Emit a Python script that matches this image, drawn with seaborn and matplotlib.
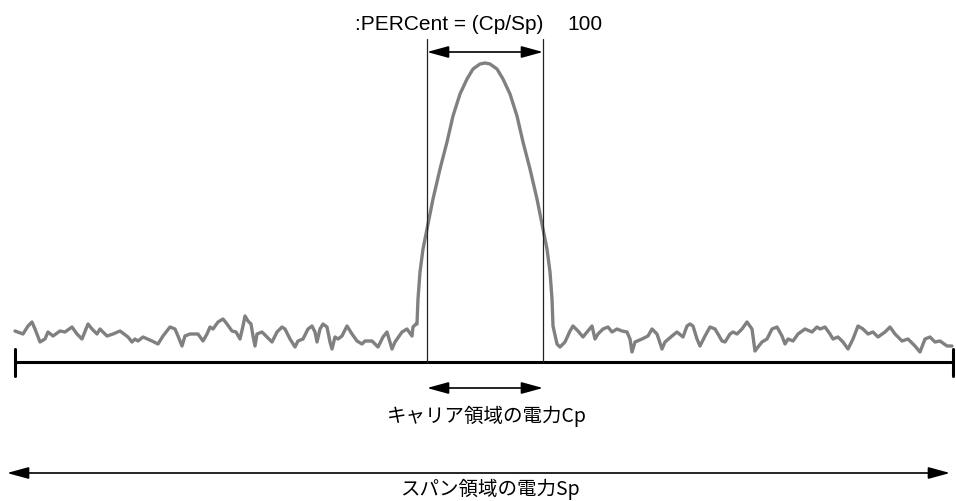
import matplotlib
matplotlib.use("Agg")
import matplotlib.pyplot as plt
import seaborn as sns
import pandas as pd

# ---- data: spectrum trace (pixel space, y downwards) ----
noise_left_x = [15, 23, 28, 32, 35, 40, 45, 48, 53, 60, 65, 72, 77, 82, 88, 92, 97, 100, 107, 113,
                120, 128, 132, 135, 138, 143, 152, 158, 163, 170, 175, 178, 182, 185, 190, 198, 203,
                207, 210, 213, 218, 223, 227, 232, 236, 240, 243, 245, 248, 251, 253, 255, 257, 262,
                267, 272, 277, 282, 285, 290, 295, 298, 303, 308, 312, 315, 317, 320, 323, 327, 330,
                332, 335, 338, 342, 347, 352, 357, 362, 365, 372, 378, 383, 387, 392, 395, 402, 407,
                412, 413, 416]
noise_left_y = [332, 335, 327, 323, 330, 343, 340, 333, 337, 332, 333, 328, 335, 340, 325, 330, 335, 330, 337, 335,
                332, 338, 343, 340, 342, 338, 342, 345, 337, 328, 330, 337, 347, 337, 335, 335, 342,
                335, 328, 330, 323, 320, 325, 332, 333, 340, 327, 317, 322, 325, 337, 347, 335, 333,
                338, 343, 333, 328, 330, 340, 348, 342, 340, 330, 327, 333, 343, 330, 325, 328, 343,
                350, 338, 340, 337, 327, 335, 342, 345, 342, 342, 348, 338, 333, 350, 343, 333, 330,
                337, 328, 325]
peak_x = [417, 418, 420, 423, 427, 433, 440, 447, 453, 460, 467, 473, 480, 485,
          490, 497, 503, 510, 517, 523, 530, 537, 543, 547, 550, 552, 553]
peak_y = [325, 300, 273, 250, 230, 200, 170, 143, 117, 95, 80, 70, 65, 64,
          65, 70, 80, 95, 117, 143, 170, 200, 230, 250, 273, 300, 327]
noise_right_x = [557, 560, 565, 570, 573, 578, 583, 587, 592, 595, 598, 603, 608, 612, 617, 622, 627,
                 630, 632, 635, 642, 648, 652, 657, 662, 665, 672, 677, 683, 687, 690, 693, 697, 700,
                 705, 710, 715, 718, 722, 725, 730, 733, 737, 742, 747, 752, 755, 758, 762, 767, 772,
                 777, 782, 785, 788, 793, 798, 805, 812, 817, 820, 825, 830, 833, 838, 843, 848, 853,
                 858, 863, 868, 873, 878, 885, 890, 895, 902, 908, 915, 920, 925, 930, 935, 940, 947, 952]
noise_right_y = [345, 348, 343, 332, 327, 332, 338, 333, 327, 340, 335, 330, 328, 333, 330, 332, 333,
                 340, 353, 343, 340, 337, 330, 335, 350, 343, 337, 333, 338, 327, 325, 327, 340, 347,
                 337, 328, 330, 335, 342, 343, 335, 333, 335, 330, 323, 330, 352, 348, 343, 340, 330,
                 328, 337, 345, 340, 342, 335, 330, 333, 328, 330, 328, 335, 340, 338, 343, 350, 340,
                 327, 330, 335, 333, 338, 333, 328, 335, 342, 340, 347, 353, 340, 338, 343, 342, 347, 347]

top_label = ":PERCent = (Cp/Sp)"
top_value = "100"
carrier_label = "キャリア領域の電力Cp"
span_label = "スパン領域の電力Sp"

trace = pd.DataFrame({
    "x": noise_left_x + peak_x + noise_right_x,
    "y": noise_left_y + peak_y + noise_right_y,
})

sns.set_theme(style="white")
plt.rcParams["font.family"] = ["Liberation Sans", "Noto Sans CJK JP", "DejaVu Sans"]

fig = plt.figure(figsize=(9.56, 5.02), dpi=100)
ax = fig.add_axes([0, 0, 1, 1])
ax.set_xlim(0, 956)
ax.set_ylim(502, 0)
ax.axis("off")

sns.lineplot(data=trace, x="x", y="y", sort=False, estimator=None, color="#808080",
             linewidth=2.4, ax=ax)

# baseline with end ticks
ax.plot([15, 953], [363, 363], color="black", linewidth=2.2, solid_capstyle="butt")
ax.plot([15, 15], [350, 377], color="black", linewidth=2.2)
ax.plot([953, 953], [350, 377], color="black", linewidth=2.2)

# carrier band boundaries
for xv in (427, 543):
    ax.plot([xv, xv], [40, 363], color="#222222", linewidth=0.9)

arrow = dict(arrowstyle="<|-|>,head_length=1.1,head_width=0.3", color="black",
             linewidth=1.2, shrinkA=0, shrinkB=0, mutation_scale=12)
ax.annotate("", xy=(427, 53), xytext=(543, 53), arrowprops=arrow)
ax.annotate("", xy=(427, 389), xytext=(543, 389), arrowprops=arrow)
ax.annotate("", xy=(7, 474), xytext=(950, 474), arrowprops=arrow)

ax.text(543, 24, top_label, ha="right", va="center", fontsize=15, color="black")
ax.text(567, 24, top_value, ha="left", va="center", fontsize=15, color="black")
ax.text(487, 416, carrier_label, ha="center", va="center", fontsize=14, color="black",
        family=["Noto Sans CJK JP", "DejaVu Sans"])
ax.text(490, 489, span_label, ha="center", va="center", fontsize=14, color="black",
        family=["Noto Sans CJK JP", "DejaVu Sans"])

fig.savefig("out.png", dpi=100)
